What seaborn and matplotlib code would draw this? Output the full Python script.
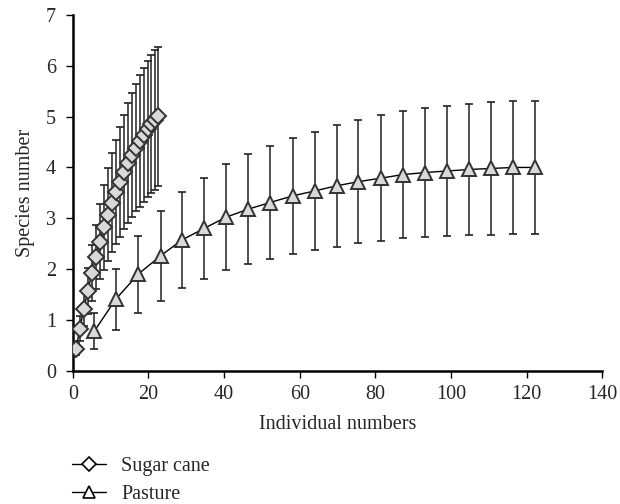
import numpy as np
import pandas as pd
import matplotlib
matplotlib.use("Agg")
import matplotlib.pyplot as plt
import seaborn as sns

# rarefaction data
cane_x = [0.8, 1.9, 2.9, 4.0, 5.0, 6.1, 7.2, 8.3, 9.4, 10.4, 11.5, 12.5,
          13.5, 14.6, 15.6, 16.7, 17.7, 18.7, 19.8, 20.8, 21.8, 22.6]
cane_y = [0.42, 0.83, 1.22, 1.57, 1.92, 2.23, 2.54, 2.82, 3.07, 3.31, 3.52, 3.72,
          3.91, 4.08, 4.24, 4.39, 4.52, 4.64, 4.75, 4.85, 4.93, 5.01]
cane_err = [0.12, 0.25, 0.35, 0.45, 0.55, 0.63, 0.74, 0.84, 0.91, 0.97, 1.02, 1.08,
            1.13, 1.18, 1.22, 1.25, 1.29, 1.32, 1.34, 1.36, 1.38, 1.37]

past_x = [5.7, 11.4, 17.3, 23.2, 28.8, 34.7, 40.5, 46.4, 52.2, 58.1, 64.1,
          69.8, 75.5, 81.5, 87.3, 93.2, 98.9, 104.8, 110.6, 116.5, 122.3]
past_y = [0.78, 1.41, 1.90, 2.26, 2.57, 2.80, 3.02, 3.18, 3.31, 3.44, 3.54,
          3.64, 3.72, 3.79, 3.86, 3.90, 3.93, 3.96, 3.98, 4.00, 4.00]
past_err = [0.35, 0.60, 0.76, 0.88, 0.95, 0.99, 1.04, 1.09, 1.11, 1.14, 1.16,
            1.20, 1.21, 1.24, 1.25, 1.27, 1.28, 1.29, 1.30, 1.31, 1.31]

series = ["Sugar cane", "Pasture"]

df = pd.concat([
    pd.DataFrame({"x": cane_x, "y": cane_y, "err": cane_err, "habitat": series[0]}),
    pd.DataFrame({"x": past_x, "y": past_y, "err": past_err, "habitat": series[1]}),
])

sns.set_style("ticks")
plt.rcParams["font.family"] = ["Liberation Serif", "DejaVu Serif"]
fs = 14.5

fig = plt.figure(figsize=(6.2, 5.04), dpi=100)
ax = fig.add_axes([0.1174, 0.2645, 0.854, 0.7057])

markers = {"Sugar cane": "D", "Pasture": "^"}
sizes = {"Sugar cane": 8.5, "Pasture": 10.5}

# error bars first so markers sit on top
for name in series:
    d = df[df["habitat"] == name]
    ax.errorbar(d["x"], d["y"], yerr=d["err"], fmt="none", ecolor="#222222",
                elinewidth=1.1, capsize=2.6, capthick=1.2, zorder=2)

sns.lineplot(data=df, x="x", y="y", hue="habitat", style="habitat",
             markers=markers, dashes=False, sort=False, estimator=None,
             palette=["black", "black"], linewidth=1.0, ax=ax, legend=False,
             zorder=3)

for line, name in zip(ax.get_lines()[-2:], series):
    line.set_markerfacecolor("#d9d9d9")
    line.set_markeredgecolor("#333333")
    line.set_markeredgewidth(1.4)
    line.set_markersize(sizes[name])

ax.set_xlim(0, 140)
ax.set_ylim(0, 7)
ax.set_xticks(np.arange(0, 141, 20))
ax.set_yticks(np.arange(0, 8, 1))
ax.set_xlabel("Individual numbers", fontsize=fs, labelpad=8)
ax.set_ylabel("Species number", fontsize=fs, labelpad=8)
ax.tick_params(direction="out", length=5, width=1.0, labelsize=fs, color="black", pad=5)
ax.tick_params(axis="y", pad=7)
for s in ["left", "bottom"]:
    ax.spines[s].set_linewidth(1.8)
    ax.spines[s].set_color("black")
sns.despine(ax=ax)

handles = [
    plt.Line2D([], [], color="black", lw=1.0, marker="D", markersize=7,
               markerfacecolor="white", markeredgecolor="black", markeredgewidth=1.2),
    plt.Line2D([], [], color="black", lw=1.0, marker="^", markersize=8,
               markerfacecolor="white", markeredgecolor="black", markeredgewidth=1.2),
]
fig.legend(handles, series, loc="upper left", bbox_to_anchor=(0.116, 0.094),
           frameon=False, fontsize=fs, handlelength=1.7, handletextpad=0.75,
           labelspacing=0.45, borderpad=0, borderaxespad=0)

fig.savefig("out.png", dpi=100)
